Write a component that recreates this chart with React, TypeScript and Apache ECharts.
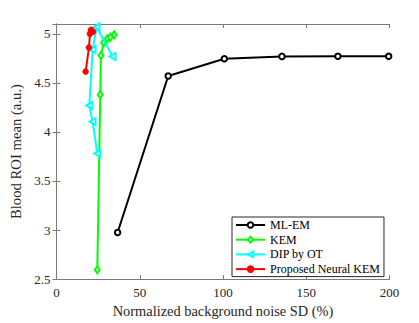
import React, { useEffect, useRef } from "react";
import * as echarts from "echarts";

const mlemX = [36.7, 67.1, 100.8, 135.4, 169, 199.5];
const mlemY = [2.975, 4.57, 4.745, 4.77, 4.772, 4.772];
const kemX = [24.5, 26.3, 26.7, 28.3, 30.5, 32.3, 34.7];
const kemY = [2.595, 4.38, 4.78, 4.91, 4.95, 4.965, 4.99];
const dipX = [24.5, 21.7, 19.7, 21.7, 24.1, 33.7];
const dipY = [3.78, 4.105, 4.27, 4.84, 5.07, 4.77];
const nkemX = [17.5, 19.5, 20.1, 20.7, 21.3, 21.9];
const nkemY = [4.615, 4.86, 5.0, 5.04, 5.03, 5.02];

const xTicks = [0, 50, 100, 150, 200];
const yTicks = [2.5, 3, 3.5, 4, 4.5, 5];

const zip = (xs: number[], ys: number[]) => xs.map((x, i) => [x, ys[i]]);

const FONT = "'Liberation Serif', 'Times New Roman', serif";
const AXC = "#7a7a7a";
const TXT = "#262626";

export default function App() {
  const ref = useRef<HTMLDivElement>(null);
  useEffect(() => {
    document.body.style.margin = "0";
    const chart = echarts.init(ref.current!, null, { renderer: "svg" });
    const hollow = (c: string) => ({ color: "#ffffff", borderColor: c, borderWidth: 2 });
    const axisCommon = {
      type: "value" as const,
      axisLine: { show: true, lineStyle: { color: AXC, width: 1 } },
      axisTick: { show: true, inside: true, length: 4, lineStyle: { color: AXC } },
      splitLine: { show: false },
    };
    chart.setOption({
      animation: false,
      backgroundColor: "#ffffff",
      grid: { left: 56.5, top: 24, width: 333, height: 260.5, containLabel: false },
      xAxis: [
        {
          ...axisCommon,
          min: 0,
          max: 200,
          interval: 50,
          position: "bottom",
          axisLabel: { color: TXT, fontFamily: FONT, fontSize: 13, margin: 7, formatter: (v: number) => (xTicks.includes(v) ? String(v) : "") },
          name: "Normalized background noise SD (%)",
          nameLocation: "middle",
          nameGap: 24,
          nameTextStyle: { color: TXT, fontFamily: FONT, fontSize: 14.4 },
        },
        { ...axisCommon, min: 0, max: 200, interval: 50, position: "top", axisLabel: { show: false } },
      ],
      yAxis: [
        {
          ...axisCommon,
          min: 2.5,
          max: 5.1,
          interval: 0.5,
          position: "left",
          axisLabel: {
            color: TXT,
            fontFamily: FONT,
            fontSize: 13,
            margin: 6,
            formatter: (v: number) => (yTicks.some((t) => Math.abs(t - v) < 1e-6) ? String(v) : ""),
          },
          name: "Blood ROI mean (a.u.)",
          nameLocation: "middle",
          nameGap: 32,
          nameTextStyle: { color: TXT, fontFamily: FONT, fontSize: 14.7 },
        },
        { ...axisCommon, min: 2.5, max: 5.1, interval: 0.5, position: "right", axisLabel: { show: false } },
      ],
      legend: {
        orient: "vertical",
        left: 232,
        top: 217,
        padding: [1.5, 4, 1, 3],
        itemGap: 1.7,
        itemWidth: 29,
        itemHeight: 7,
        backgroundColor: "#ffffff",
        borderColor: "#262626",
        borderWidth: 1,
        borderRadius: 0,
        textStyle: { color: "#000", fontFamily: FONT, fontSize: 12, lineHeight: 13 },
        data: ["ML-EM", "KEM", "DIP by OT", "Proposed Neural KEM"],
      },
      series: [
        {
          name: "ML-EM",
          type: "line",
          data: zip(mlemX, mlemY),
          symbol: "circle",
          symbolSize: 5.5,
          lineStyle: { color: "#000000", width: 2 },
          itemStyle: hollow("#000000"),
          z: 2,
        },
        {
          name: "KEM",
          type: "line",
          data: zip(kemX, kemY),
          symbol: "diamond",
          symbolSize: [5, 7],
          lineStyle: { color: "#00ff00", width: 2 },
          itemStyle: hollow("#00ff00"),
          z: 3,
        },
        {
          name: "DIP by OT",
          type: "line",
          data: zip(dipX, dipY),
          symbol: "path://M0,5 L10,0 L10,10 Z",
          symbolSize: [6, 7],
          lineStyle: { color: "#00ffff", width: 2 },
          itemStyle: hollow("#00ffff"),
          z: 4,
        },
        {
          name: "Proposed Neural KEM",
          type: "line",
          data: zip(nkemX, nkemY),
          symbol: "circle",
          symbolSize: 6,
          lineStyle: { color: "#ff0000", width: 2 },
          itemStyle: { color: "#ff0000", borderColor: "#ff0000", borderWidth: 0.5 },
          z: 5,
        },
      ],
    });
    return () => chart.dispose();
  }, []);
  return <div ref={ref} style={{ position: "absolute", left: 0, top: 0, width: 419, height: 323 }} />;
}
